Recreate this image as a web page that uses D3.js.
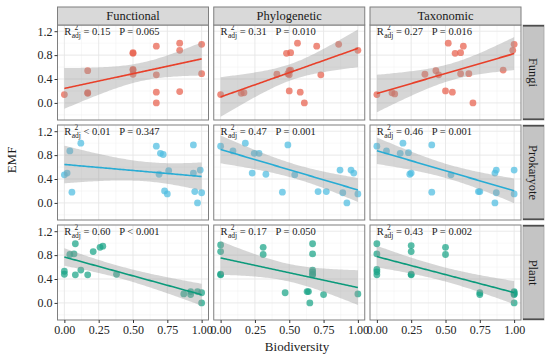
<!DOCTYPE html>
<html>
<head>
<meta charset="utf-8">
<script src="https://cdn.jsdelivr.net/npm/d3@7"></script>
<style>
  body { margin: 0; background: #fff; }
  svg text { font-family: "Liberation Serif", "Tinos", "DejaVu Serif", serif !important; }
</style>
</head>
<body>
<svg id="chart" width="550" height="362" font-family="Liberation Serif, DejaVu Serif, serif"></svg>
<script>
const columns = ["Functional", "Phylogenetic", "Taxonomic"];
const groups = ["Fungi", "Prokaryote", "Plant"];
const pointColors = ["#e8604c", "#4dbde0", "#19a487"];
const lineColors = ["#e8402a", "#28acd4", "#0b9a7b"];
const xTicks = [0, 0.25, 0.5, 0.75, 1];
const yTicks = [0, 0.4, 0.8, 1.2];

const r2Labels = [
  ["= 0.15", "= 0.31", "= 0.27"],
  ["< 0.01", "= 0.47", "= 0.46"],
  ["= 0.60", "= 0.17", "= 0.43"]
];
const pLabels = [
  ["P = 0.065", "P = 0.010", "P = 0.016"],
  ["P = 0.347", "P = 0.001", "P = 0.001"],
  ["P < 0.001", "P = 0.050", "P = 0.002"]
];

// [biodiversity, EMF]
const fungiFunctional = [[0.00,0.14],[0.17,0.54],[0.17,0.16],[0.17,0.17],[0.50,0.83],[0.50,0.84],[0.50,0.56],[0.50,0.48],[0.50,0.55],[0.67,0.95],[0.67,0.47],[0.67,0.18],[0.67,0.00],[0.84,1.00],[0.84,0.88],[0.84,0.19],[1.00,0.98],[1.00,0.49]];
const fungiPhylogenetic = [[0.00,0.14],[0.15,0.16],[0.17,0.17],[0.41,0.48],[0.48,0.83],[0.51,0.84],[0.49,0.49],[0.51,0.55],[0.50,0.54],[0.56,1.00],[0.50,0.20],[0.58,0.18],[0.61,0.00],[0.70,0.95],[0.73,0.47],[0.86,0.98],[1.00,0.88],[0.50,0.47]];
const fungiTaxonomic = [[0.00,0.14],[0.11,0.17],[0.13,0.15],[0.35,0.48],[0.43,0.54],[0.45,0.47],[0.52,1.00],[0.50,0.20],[0.55,0.18],[0.57,0.83],[0.61,0.84],[0.63,0.95],[0.61,0.49],[0.67,0.49],[0.70,0.00],[0.92,0.55],[0.99,0.88],[1.00,0.98]];
const prokFunctional = [[0.00,0.47],[0.02,0.50],[0.04,0.87],[0.055,0.18],[0.12,1.00],[0.67,0.95],[0.70,0.83],[0.72,0.81],[0.69,0.48],[0.76,0.54],[0.73,0.20],[0.75,0.15],[0.94,0.97],[0.94,0.50],[0.99,0.55],[0.95,0.19],[1.00,0.17],[0.97,0.00]];
const prokPhylogenetic = [[0.00,0.95],[0.09,0.87],[0.18,1.00],[0.23,0.50],[0.245,0.83],[0.28,0.83],[0.33,0.48],[0.45,0.18],[0.49,0.97],[0.54,0.47],[0.71,0.19],[0.77,0.19],[0.87,0.55],[0.95,0.55],[0.97,0.50],[0.89,0.17],[0.92,0.00],[1.00,0.15]];
const prokTaxonomic = [[0.00,0.95],[0.07,0.87],[0.19,1.00],[0.17,0.83],[0.23,0.84],[0.24,0.48],[0.25,0.50],[0.40,0.97],[0.40,0.18],[0.54,0.47],[0.74,0.19],[0.75,0.19],[0.86,0.50],[0.87,0.55],[1.00,0.55],[0.87,0.17],[0.86,0.00],[1.00,0.15]];
const plantFunctional = [[0.00,0.53],[0.00,0.48],[0.04,0.81],[0.07,0.82],[0.08,0.99],[0.08,0.47],[0.12,0.55],[0.17,0.47],[0.21,0.86],[0.26,0.93],[0.28,0.95],[0.38,0.48],[0.87,0.15],[0.92,0.19],[0.92,0.14],[0.97,0.19],[1.00,0.17],[1.00,0.00]];
const plantPhylogenetic = [[0.00,0.97],[0.00,0.86],[0.00,0.48],[0.00,0.47],[0.31,0.93],[0.31,0.81],[0.47,0.17],[0.63,0.19],[0.64,0.19],[0.65,0.00],[0.67,0.99],[0.67,0.82],[0.67,0.55],[0.67,0.52],[0.67,0.47],[0.67,0.48],[0.75,0.14],[1.00,0.15]];
const plantTaxonomic = [[0.00,0.99],[0.00,0.82],[0.00,0.56],[0.00,0.52],[0.00,0.47],[0.25,0.96],[0.25,0.86],[0.25,0.48],[0.25,0.47],[0.50,0.93],[0.50,0.81],[0.75,0.17],[0.75,0.14],[1.00,0.19],[1.00,0.14],[1.00,0.17],[1.00,0.15],[1.00,0.00]];

const panelData = [
  [fungiFunctional, fungiPhylogenetic, fungiTaxonomic],
  [prokFunctional, prokPhylogenetic, prokTaxonomic],
  [plantFunctional, plantPhylogenetic, plantTaxonomic]
];

// layout
const colX = [57.5, 213.75, 370];
const rowY = [25, 125, 225];
const panelW = 151, panelH = 95;
const stripH = 18;
const rightStripX = 523, rightStripW = 21;

const svg = d3.select("#chart");

const x = d3.scaleLinear().domain([-0.05, 1.05]).range([0, panelW]);
const y = d3.scaleLinear().domain([-0.286, 1.304]).range([panelH, 0]);

// linear fit with 95% band, like geom_smooth(method = "lm")
function lmFit(pts) {
  const n = pts.length;
  const mx = d3.mean(pts, d => d[0]);
  const my = d3.mean(pts, d => d[1]);
  const sxx = d3.sum(pts, d => (d[0] - mx) ** 2);
  const sxy = d3.sum(pts, d => (d[0] - mx) * (d[1] - my));
  const b = sxy / sxx;
  const a = my - b * mx;
  const sse = d3.sum(pts, d => (d[1] - a - b * d[0]) ** 2);
  const s = Math.sqrt(sse / (n - 2));
  const tCrit = 2.12; // t(0.975, 16)
  const [x0, x1] = d3.extent(pts, d => d[0]);
  return d3.range(80).map(i => {
    const xv = x0 + (x1 - x0) * i / 79;
    const fit = a + b * xv;
    const se = s * Math.sqrt(1 / n + (xv - mx) ** 2 / sxx);
    return { x: xv, fit, lo: fit - tCrit * se, hi: fit + tCrit * se };
  });
}

function statLabel(g, x0, y0, r2, p) {
  const r = g.append("text").attr("x", x0).attr("y", y0)
    .attr("font-size", 10.5).attr("fill", "#1a1a1a").text("R");
  const rw = r.node().getComputedTextLength();
  g.append("text").attr("x", x0 + rw + 3).attr("y", y0 - 5)
    .attr("font-size", 7.5).attr("fill", "#1a1a1a").text("2");
  const adj = g.append("text").attr("x", x0 + rw + 0.3).attr("y", y0 + 3)
    .attr("font-size", 7.5).attr("fill", "#1a1a1a").text("adj");
  const aw = adj.node().getComputedTextLength();
  g.append("text").attr("x", x0 + rw + aw + 3).attr("y", y0)
    .attr("font-size", 10.5).attr("fill", "#1a1a1a").text(r2);
  g.append("text").attr("x", x(0.4)).attr("y", y0)
    .attr("font-size", 10.5).attr("fill", "#1a1a1a").text(p);
}

groups.forEach((grp, ri) => {
  columns.forEach((col, ci) => {
    const pts = panelData[ri][ci];
    const g = svg.append("g").attr("transform", `translate(${colX[ci]},${rowY[ri]})`);

    g.append("rect").attr("width", panelW).attr("height", panelH).attr("fill", "#fff");

    // grid
    const minorX = [0.125, 0.375, 0.625, 0.875];
    const minorY = [-0.2, 0.2, 0.6, 1.0];
    g.selectAll(".mx").data(minorX).join("line")
      .attr("x1", d => x(d)).attr("x2", d => x(d)).attr("y1", 0).attr("y2", panelH)
      .attr("stroke", "#f0f0f0").attr("stroke-width", 0.5);
    g.selectAll(".my").data(minorY).join("line")
      .attr("y1", d => y(d)).attr("y2", d => y(d)).attr("x1", 0).attr("x2", panelW)
      .attr("stroke", "#f0f0f0").attr("stroke-width", 0.5);
    g.selectAll(".gx").data(xTicks).join("line")
      .attr("x1", d => x(d)).attr("x2", d => x(d)).attr("y1", 0).attr("y2", panelH)
      .attr("stroke", "#e6e6e6").attr("stroke-width", 0.9);
    g.selectAll(".gy").data(yTicks).join("line")
      .attr("y1", d => y(d)).attr("y2", d => y(d)).attr("x1", 0).attr("x2", panelW)
      .attr("stroke", "#e6e6e6").attr("stroke-width", 0.9);

    // points
    g.selectAll("circle").data(pts).join("circle")
      .attr("cx", d => x(d[0])).attr("cy", d => y(d[1])).attr("r", 3.4)
      .attr("fill", pointColors[ri]).attr("fill-opacity", 0.72);

    // smooth
    const fit = lmFit(pts);
    g.append("path").datum(fit)
      .attr("d", d3.area().x(d => x(d.x)).y0(d => y(d.lo)).y1(d => y(d.hi)))
      .attr("fill", "#999999").attr("fill-opacity", 0.4);
    g.append("path").datum(fit)
      .attr("d", d3.line().x(d => x(d.x)).y(d => y(d.fit)))
      .attr("fill", "none").attr("stroke", lineColors[ri]).attr("stroke-width", 1.6);

    statLabel(g, x(0), y(1.2) + 3.6, r2Labels[ri][ci], pLabels[ri][ci]);

    g.append("rect").attr("width", panelW).attr("height", panelH)
      .attr("fill", "none").attr("stroke", "#7f7f7f").attr("stroke-width", 1);

    // y axis (first column)
    if (ci === 0) {
      const ya = g.append("g").call(d3.axisLeft(y).tickValues(yTicks).tickFormat(d3.format(".1f")).tickSize(3).tickPadding(2));
      ya.attr("font-family", null);
      ya.select(".domain").remove();
      ya.selectAll("line").attr("stroke", "#333");
      ya.selectAll("text").attr("font-size", 12).attr("fill", "#222");
    }
    // x axis (last row)
    if (ri === groups.length - 1) {
      const xa = g.append("g").attr("transform", `translate(0,${panelH})`)
        .call(d3.axisBottom(x).tickValues(xTicks).tickFormat(d3.format(".2f")).tickSize(3).tickPadding(2));
      xa.attr("font-family", null);
      xa.select(".domain").remove();
      xa.selectAll("line").attr("stroke", "#333");
      xa.selectAll("text").attr("font-size", 12).attr("fill", "#222");
    }
  });

  // right strip
  const sy = rowY[ri];
  const sg = svg.append("g").attr("transform", `translate(${rightStripX},${sy})`);
  sg.append("rect").attr("width", rightStripW).attr("height", panelH)
    .attr("fill", "#c4c4c4").attr("stroke", "#a6a6a6").attr("stroke-width", 0.8);
  sg.append("line").attr("x1", 0).attr("x2", rightStripW).attr("y1", 0.8).attr("y2", 0.8)
    .attr("stroke", "#4d4d4d").attr("stroke-width", 1.6);
  sg.append("line").attr("x1", 0).attr("x2", rightStripW).attr("y1", panelH - 0.8).attr("y2", panelH - 0.8)
    .attr("stroke", "#4d4d4d").attr("stroke-width", 1.6);
  sg.append("text")
    .attr("transform", `translate(${rightStripW / 2},${panelH / 2}) rotate(90)`)
    .attr("text-anchor", "middle").attr("dy", "0.35em")
    .attr("font-size", 12.5).attr("fill", "#1a1a1a").text(grp);
});

// top strips
columns.forEach((col, ci) => {
  const sg = svg.append("g").attr("transform", `translate(${colX[ci]},${rowY[0] - stripH})`);
  sg.append("rect").attr("width", panelW).attr("height", stripH)
    .attr("fill", "#d9d9d9").attr("stroke", "#7f7f7f").attr("stroke-width", 1);
  sg.append("text").attr("x", panelW / 2).attr("y", stripH / 2).attr("dy", "0.35em")
    .attr("text-anchor", "middle").attr("font-size", 12.5).attr("fill", "#1a1a1a").text(col);
});

// axis titles
svg.append("text").attr("x", 297).attr("y", 351).attr("text-anchor", "middle")
  .attr("font-size", 13).attr("fill", "#1a1a1a").text("Biodiversity");
svg.append("text").attr("transform", "translate(16,160) rotate(-90)")
  .attr("text-anchor", "middle").attr("font-size", 13).attr("fill", "#1a1a1a").text("EMF");
</script>
</body>
</html>
